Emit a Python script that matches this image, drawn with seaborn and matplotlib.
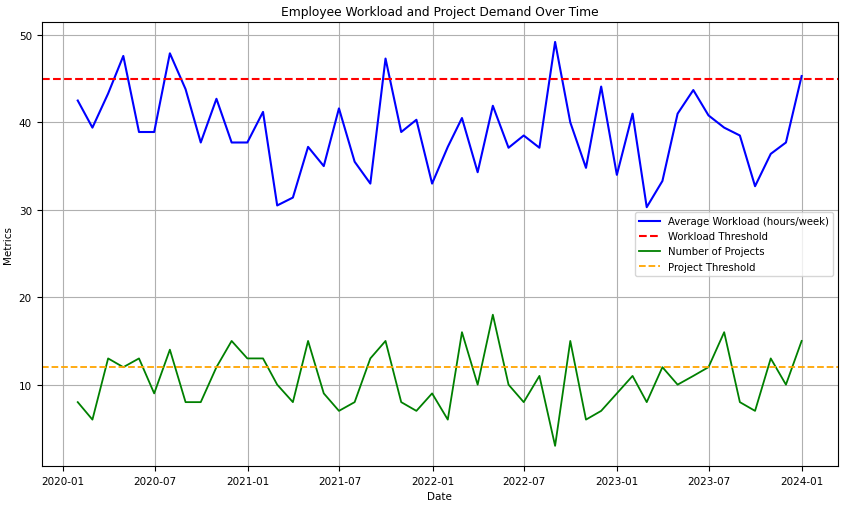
import numpy as np
import pandas as pd
import matplotlib
matplotlib.use("Agg")
import matplotlib.pyplot as plt
import seaborn as sns

dates = pd.date_range("2020-01-31", "2023-12-31", freq="ME")

workload = [42.5, 39.4, 43.3, 47.6, 38.9, 38.9, 47.9, 43.8, 37.7, 42.7, 37.7, 37.7,
            41.2, 30.5, 31.4, 37.2, 35.0, 41.6, 35.5, 33.0, 47.3, 38.9, 40.3, 33.0,
            37.2, 40.5, 34.3, 41.9, 37.1, 38.5, 37.1, 49.2, 40.0, 34.8, 44.1, 34.0,
            41.0, 30.3, 33.3, 41.0, 43.7, 40.8, 39.4, 38.5, 32.7, 36.4, 37.7, 45.3]

projects = [8, 6, 13, 12, 13, 9, 14, 8, 8, 12, 15, 13,
            13, 10, 8, 15, 9, 7, 8, 13, 15, 8, 7, 9,
            6, 16, 10, 18, 10, 8, 11, 3, 15, 6, 7, 9,
            11, 8, 12, 10, 11, 12, 16, 8, 7, 13, 10, 15]

workload_threshold = 45
project_threshold = 12

df = pd.DataFrame({"Date": dates, "Workload": workload, "Projects": projects})

plt.rcParams["font.size"] = 7.5
fig, ax = plt.subplots(figsize=(8.48, 5.06), dpi=100)

sns.lineplot(data=df, x="Date", y="Workload", color="blue", linewidth=1.5,
             label="Average Workload (hours/week)", ax=ax)
ax.axhline(workload_threshold, color="red", linestyle="--", linewidth=1.5,
           label="Workload Threshold")
sns.lineplot(data=df, x="Date", y="Projects", color="green", linewidth=1.3,
             label="Number of Projects", ax=ax)
ax.axhline(project_threshold, color="orange", linestyle="--", linewidth=1.3,
           label="Project Threshold")

ax.set_title("Employee Workload and Project Demand Over Time", fontsize=8.8, pad=5)
ax.set_xlabel("Date", fontsize=7.5)
ax.set_ylabel("Metrics", fontsize=7.5)
ax.grid(True)
ax.legend(loc="center right", fontsize=7.3)

fig.subplots_adjust(left=0.049, right=0.988, top=0.955, bottom=0.077)
fig.savefig("out.png", dpi=100)
